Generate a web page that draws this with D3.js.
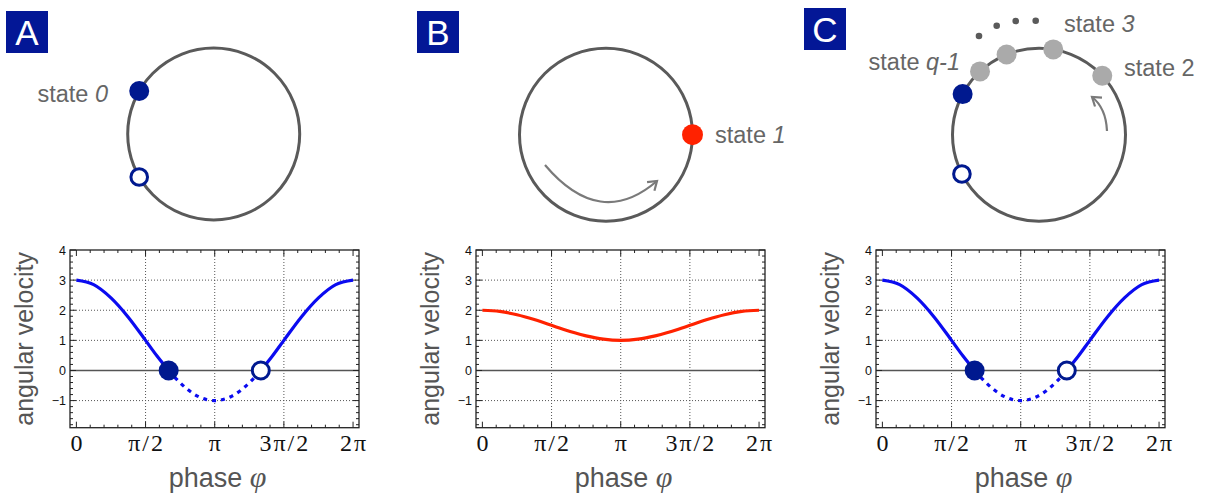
<!DOCTYPE html>
<html><head><meta charset="utf-8">
<script src="https://cdn.jsdelivr.net/npm/d3@7"></script>
<style>
html,body{margin:0;padding:0;background:#fff;}
svg{display:block;}
</style></head>
<body>
<script>
// ---- data (phase in units of pi) ----
const phases = [0,0.125,0.25,0.375,0.5,0.583,0.667,0.75,0.875,1,1.125,1.25,1.333,1.417,1.5,1.625,1.75,1.875,2];
const velocityA = [3,2.85,2.41,1.77,1.0,0.48,0,-0.41,-0.85,-1,-0.85,-0.41,0,0.48,1.0,1.77,2.41,2.85,3];
const velocityB = [2,1.96,1.85,1.69,1.5,1.37,1.25,1.15,1.04,1,1.04,1.15,1.25,1.37,1.5,1.69,1.85,1.96,2];
const velocityC = [3,2.85,2.41,1.77,1.0,0.48,0,-0.41,-0.85,-1,-0.85,-0.41,0,0.48,1.0,1.77,2.41,2.85,3];
const stablePhase = 0.667, unstablePhase = 1.333;
const xTickValues = [0,0.5,1,1.5,2];
const xTickLabels = ["0","\u03c0/2","\u03c0","3\u03c0/2","2\u03c0"];
const yTickValues = [-1,0,1,2,3,4];
const yTickLabels = ["\u22121","0","1","2","3","4"];
const panelLetters = ["A","B","C"];
// circle diagram markers: angle in degrees (math convention, counter-clockwise from +x)
const statesA = [{a:150,type:"filled"},{a:210,type:"open"}];
const statesB = [{a:0,type:"red"}];
const statesC = [{a:152,type:"filled"},{a:207,type:"open"},{a:133,type:"grey"},{a:112,type:"grey"},{a:80.5,type:"grey"},{a:43,type:"grey"}];

const W=1205,H=494;
const svg=d3.select("body").append("svg").attr("width",W).attr("height",H);
const NAVY="#00198f", BLUE="#0b0bf0", RED="#ff2200", GREY="#aaaaaa", DARK="#5a5a5a", TXT="#666";
const SANS="'Liberation Sans', Arial, Helvetica, sans-serif";
const SERIF="'Liberation Serif','DejaVu Serif', serif";

// ---------- panel letters ----------
const letterBoxes=[{x:6,y:11},{x:417,y:11},{x:804,y:8}];
letterBoxes.forEach((b,i)=>{
  svg.append("rect").attr("x",b.x).attr("y",b.y).attr("width",42).attr("height",42).attr("fill","#031796");
  svg.append("text").attr("x",b.x+21).attr("y",b.y+34).attr("text-anchor","middle")
    .attr("font-family",SANS).attr("font-size",35).attr("fill","#fff").text(panelLetters[i]);
});

// ---------- plots ----------
function plot(left, values, color, withFixed){
  const right=left+289, top=250, bottom=427.7;
  const x=d3.scaleLinear().domain([-0.145*1/Math.PI, 2+0.135/Math.PI]).range([left,right]);
  const y=d3.scaleLinear().domain([-1.9,4]).range([bottom,top]);
  const g=svg.append("g");
  // grid
  [0.5,1,1.5].forEach(v=>g.append("line").attr("x1",x(v)).attr("x2",x(v)).attr("y1",top).attr("y2",bottom)
     .attr("stroke","#555").attr("stroke-width",1).attr("stroke-dasharray","1,2"));
  [-1,1,2,3].forEach(v=>g.append("line").attr("x1",left).attr("x2",right).attr("y1",y(v)).attr("y2",y(v))
     .attr("stroke","#555").attr("stroke-width",1).attr("stroke-dasharray","1,2"));
  // zero line
  g.append("line").attr("x1",left).attr("x2",right).attr("y1",y(0)).attr("y2",y(0)).attr("stroke","#555").attr("stroke-width",1.6);
  // frame ticks
  const xMinor=d3.range(0,21).map(i=>i*0.1);
  xMinor.forEach(v=>{
    const major=Math.abs(v*2-Math.round(v*2))<1e-6;
    const L=major?6:3;
    g.append("line").attr("x1",x(v)).attr("x2",x(v)).attr("y1",bottom).attr("y2",bottom-L).attr("stroke","#222").attr("stroke-width",1);
    g.append("line").attr("x1",x(v)).attr("x2",x(v)).attr("y1",top).attr("y2",top+L).attr("stroke","#222").attr("stroke-width",1);
  });
  const yMinor=d3.range(-9,21).map(i=>i*0.2);
  yMinor.forEach(v=>{
    const major=Math.abs(v-Math.round(v))<1e-6;
    const L=major?6:3;
    g.append("line").attr("x1",left).attr("x2",left+L).attr("y1",y(v)).attr("y2",y(v)).attr("stroke","#222").attr("stroke-width",1);
    g.append("line").attr("x1",right).attr("x2",right-L).attr("y1",y(v)).attr("y2",y(v)).attr("stroke","#222").attr("stroke-width",1);
  });
  g.append("rect").attr("x",left).attr("y",top).attr("width",right-left).attr("height",bottom-top)
    .attr("fill","none").attr("stroke","#222").attr("stroke-width",1.3);
  // tick labels
  xTickValues.forEach((v,i)=>g.append("text").attr("x",x(v)+1).attr("y",451).attr("text-anchor","middle")
    .attr("font-family",SERIF).attr("font-size",24).attr("letter-spacing",2).attr("fill","#111").text(xTickLabels[i]));
  yTickValues.forEach((v,i)=>g.append("text").attr("x",left-4).attr("y",y(v)+4.5).attr("text-anchor","end")
    .attr("font-family",SANS).attr("font-size",12.5).attr("fill","#111").text(yTickLabels[i]));
  // axis titles
  const xt=g.append("text").attr("x",(left+right)/2+3).attr("y",487).attr("text-anchor","middle")
    .attr("font-family",SANS).attr("font-size",27).attr("fill","#555");
  xt.append("tspan").text("phase ");
  xt.append("tspan").attr("font-family",SERIF).attr("font-style","italic").attr("font-size",30).text("\u03c6");
  g.append("text").attr("transform",`translate(${left-37},${(top+bottom)/2}) rotate(-90)`).attr("text-anchor","middle")
    .attr("font-family",SANS).attr("font-size",25).attr("fill","#555").text("angular velocity");
  // curves
  const pts=phases.map((p,i)=>({p,v:values[i]}));
  const line=d3.line().x(d=>x(d.p)).y(d=>y(d.v)).curve(d3.curveMonotoneX);
  if(withFixed){
    const s1=pts.filter(d=>d.p<=stablePhase), s2=pts.filter(d=>d.p>=stablePhase&&d.p<=unstablePhase), s3=pts.filter(d=>d.p>=unstablePhase);
    [s1,s3].forEach(s=>g.append("path").attr("d",line(s)).attr("fill","none").attr("stroke",color).attr("stroke-width",3.2));
    g.append("path").attr("d",line(s2)).attr("fill","none").attr("stroke",color).attr("stroke-width",3.2).attr("stroke-dasharray","4,5");
    g.append("circle").attr("cx",x(stablePhase)).attr("cy",y(0)).attr("r",10).attr("fill",NAVY);
    g.append("circle").attr("cx",x(unstablePhase)).attr("cy",y(0)).attr("r",8.5).attr("fill","#fff").attr("stroke",NAVY).attr("stroke-width",3);
  } else {
    g.append("path").attr("d",line(pts)).attr("fill","none").attr("stroke",color).attr("stroke-width",3.2);
  }
}
plot(70, velocityA, BLUE, true);
plot(476, velocityB, RED, false);
plot(876, velocityC, BLUE, true);

// ---------- circle diagrams ----------
function circleDiagram(cx,cy,r,states){
  const g=svg.append("g");
  g.append("circle").attr("cx",cx).attr("cy",cy).attr("r",r).attr("fill","none").attr("stroke",DARK).attr("stroke-width",3);
  states.forEach(s=>{
    const a=s.a*Math.PI/180, px=cx+r*Math.cos(a), py=cy-r*Math.sin(a);
    if(s.type==="filled") g.append("circle").attr("cx",px).attr("cy",py).attr("r",10).attr("fill",NAVY);
    else if(s.type==="open") g.append("circle").attr("cx",px).attr("cy",py).attr("r",8.3).attr("fill","#fff").attr("stroke",NAVY).attr("stroke-width",3);
    else if(s.type==="red") g.append("circle").attr("cx",px).attr("cy",py).attr("r",10.5).attr("fill",RED);
    else g.append("circle").attr("cx",px).attr("cy",py).attr("r",10).attr("fill",GREY);
  });
  return g;
}
function stateLabel(x,y,anchor,base,num){
  const t=svg.append("text").attr("x",x).attr("y",y).attr("text-anchor",anchor)
    .attr("font-family",SANS).attr("font-size",23.5).attr("fill",TXT);
  t.append("tspan").text(base);
  t.append("tspan").attr("font-style","italic").text(num);
}
circleDiagram(213.7,134,86,statesA);
stateLabel(108,102,"end","state ","0");

circleDiagram(606,134.7,86.5,statesB);
stateLabel(715,143,"start","state ","1");

circleDiagram(1039,134.7,86.5,statesC);
stateLabel(960,70,"end","state ","q-1");
stateLabel(1064,32,"start","state ","3");
svg.append("text").attr("x",1124).attr("y",76).attr("font-family",SANS).attr("font-size",23.5).attr("fill",TXT).text("state 2");
// ellipsis dots
[[979,36],[996.7,25.7],[1015.7,21],[1035.7,20.7]].forEach(d=>svg.append("circle").attr("cx",d[0]).attr("cy",d[1]).attr("r",3.3).attr("fill",DARK));

// arrows
const arrowColor="#7a7a7a";
function arrow(path, tip, dir){
  svg.append("path").attr("d",path).attr("fill","none").attr("stroke",arrowColor).attr("stroke-width",2.2);
  const a=Math.atan2(dir[1],dir[0]), L=10, sp=0.6;
  const p1=[tip[0]-L*Math.cos(a-sp), tip[1]-L*Math.sin(a-sp)];
  const p2=[tip[0]-L*Math.cos(a+sp), tip[1]-L*Math.sin(a+sp)];
  svg.append("path").attr("d",`M${p1}L${tip}L${p2}`).attr("fill","none").attr("stroke",arrowColor).attr("stroke-width",2.2).attr("stroke-linejoin","miter");
}
arrow("M545,165 Q600,230 657,181", [657,181], [57,-49]);
arrow("M1107,131 Q1106,108 1092,97", [1092,97], [-14,-11]);
</script>
</body></html>
